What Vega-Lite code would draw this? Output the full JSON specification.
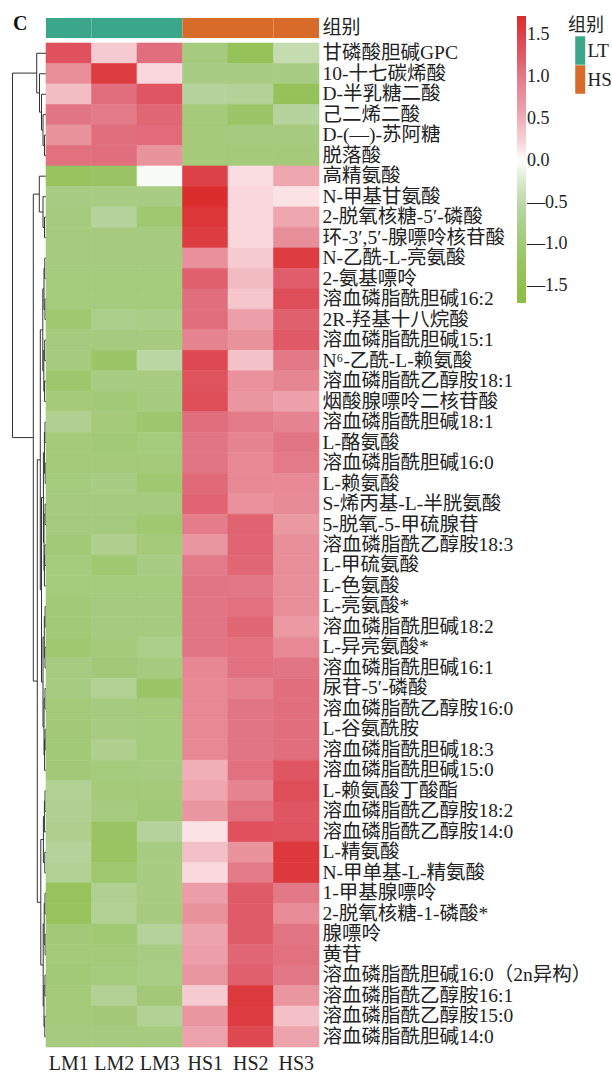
{
  "$schema": "https://vega.github.io/schema/vega-lite/v6.json",
  "width": 307,
  "height": 1031,
  "autosize": {"type": "none"},
  "padding": {"left": 12, "top": 16, "right": 293, "bottom": 27},
  "background": "white",
  "title": {"text": "C", "anchor": "start", "frame": "group", "font": "Liberation Serif", "fontSize": 20, "fontWeight": "bold", "color": "#111", "baseline": "top", "offset": 5, "dx": 1, "dy": 23},
  "config": {"view": {"stroke": null}, "font": "Liberation Serif"},
  "datasets": {
    "tree": [
      {"y": 0.5, "h": 0, "ph": 9.3}, {"y": 1.5, "h": 0, "ph": 6.5}, {"y": 2.5, "h": 0, "ph": 4.5}, {"y": 3.5, "h": 0, "ph": 3},
      {"y": 4.5, "h": 0, "ph": 1.5}, {"y": 5.5, "h": 0, "ph": 1.5}, {"y": 6.5, "h": 0, "ph": 6.7}, {"y": 7.5, "h": 0, "ph": 3},
      {"y": 8.5, "h": 0, "ph": 1.5}, {"y": 9.5, "h": 0, "ph": 1.5}, {"y": 10.5, "h": 0, "ph": 1.2}, {"y": 11.5, "h": 0, "ph": 1.2},
      {"y": 12.5, "h": 0, "ph": 1}, {"y": 13.5, "h": 0, "ph": 1}, {"y": 14.5, "h": 0, "ph": 1.3}, {"y": 15.5, "h": 0, "ph": 1.3},
      {"y": 16.5, "h": 0, "ph": 1.4}, {"y": 17.5, "h": 0, "ph": 1.4}, {"y": 18.5, "h": 0, "ph": 1}, {"y": 19.5, "h": 0, "ph": 1},
      {"y": 20.5, "h": 0, "ph": 0.8}, {"y": 21.5, "h": 0, "ph": 0.8}, {"y": 22.5, "h": 0, "ph": 0.9}, {"y": 23.5, "h": 0, "ph": 0.9},
      {"y": 24.5, "h": 0, "ph": 1.1}, {"y": 25.5, "h": 0, "ph": 1.1}, {"y": 26.5, "h": 0, "ph": 1.6}, {"y": 27.5, "h": 0, "ph": 0.9},
      {"y": 28.5, "h": 0, "ph": 0.9}, {"y": 29.5, "h": 0, "ph": 1}, {"y": 30.5, "h": 0, "ph": 1}, {"y": 31.5, "h": 0, "ph": 1},
      {"y": 32.5, "h": 0, "ph": 1}, {"y": 33.5, "h": 0, "ph": 0.8}, {"y": 34.5, "h": 0, "ph": 0.8}, {"y": 35.5, "h": 0, "ph": 1.4},
      {"y": 36.5, "h": 0, "ph": 1}, {"y": 37.5, "h": 0, "ph": 1}, {"y": 38.5, "h": 0, "ph": 1.6}, {"y": 39.5, "h": 0, "ph": 1.2},
      {"y": 40.5, "h": 0, "ph": 1.2}, {"y": 41.5, "h": 0, "ph": 1}, {"y": 42.5, "h": 0, "ph": 1}, {"y": 43.5, "h": 0, "ph": 0.9},
      {"y": 44.5, "h": 0, "ph": 0.9}, {"y": 45.5, "h": 0, "ph": 1}, {"y": 46.5, "h": 0, "ph": 1}, {"y": 47.5, "h": 0, "ph": 1.2},
      {"y": 48.5, "h": 0, "ph": 1.2},
      {"h": 1.5, "y": 5, "ph": 3, "ya": 4.5, "yb": 5.5},
      {"h": 3, "y": 4.25, "ph": 4.5, "ya": 3.5, "yb": 5},
      {"h": 4.5, "y": 3.375, "ph": 6.5, "ya": 2.5, "yb": 4.25},
      {"h": 6.5, "y": 2.4375, "ph": 9.3, "ya": 1.5, "yb": 3.375},
      {"h": 9.3, "y": 1.46875, "ph": 33.5, "ya": 0.5, "yb": 2.4375},
      {"h": 1.5, "y": 9, "ph": 3, "ya": 8.5, "yb": 9.5},
      {"h": 3, "y": 8.25, "ph": 6.7, "ya": 7.5, "yb": 9},
      {"h": 6.7, "y": 7.375, "ph": 12.7, "ya": 6.5, "yb": 8.25},
      {"h": 1.2, "y": 11, "ph": 2, "ya": 10.5, "yb": 11.5},
      {"h": 1, "y": 13, "ph": 2, "ya": 12.5, "yb": 13.5},
      {"h": 2, "y": 12, "ph": 3.2, "ya": 11, "yb": 13},
      {"h": 1.3, "y": 15, "ph": 2.2, "ya": 14.5, "yb": 15.5},
      {"h": 1.4, "y": 17, "ph": 2.2, "ya": 16.5, "yb": 17.5},
      {"h": 2.2, "y": 16, "ph": 3.2, "ya": 15, "yb": 17},
      {"h": 3.2, "y": 14, "ph": 5.7, "ya": 12, "yb": 16},
      {"h": 1, "y": 19, "ph": 1.6, "ya": 18.5, "yb": 19.5},
      {"h": 0.8, "y": 21, "ph": 1.6, "ya": 20.5, "yb": 21.5},
      {"h": 1.6, "y": 20, "ph": 2.6, "ya": 19, "yb": 21},
      {"h": 0.9, "y": 23, "ph": 2, "ya": 22.5, "yb": 23.5},
      {"h": 1.1, "y": 25, "ph": 1.6, "ya": 24.5, "yb": 25.5},
      {"h": 1.6, "y": 25.75, "ph": 2, "ya": 25, "yb": 26.5},
      {"h": 2, "y": 24.375, "ph": 2.6, "ya": 23, "yb": 25.75},
      {"h": 2.6, "y": 22.1875, "ph": 4.5, "ya": 20, "yb": 24.375},
      {"h": 0.9, "y": 28, "ph": 1.7, "ya": 27.5, "yb": 28.5},
      {"h": 1, "y": 30, "ph": 1.7, "ya": 29.5, "yb": 30.5},
      {"h": 1.7, "y": 29, "ph": 3, "ya": 28, "yb": 30},
      {"h": 1, "y": 32, "ph": 2, "ya": 31.5, "yb": 32.5},
      {"h": 0.8, "y": 34, "ph": 1.4, "ya": 33.5, "yb": 34.5},
      {"h": 1.4, "y": 34.75, "ph": 2, "ya": 34, "yb": 35.5},
      {"h": 2, "y": 33.375, "ph": 3, "ya": 32, "yb": 34.75},
      {"h": 3, "y": 31.1875, "ph": 4.5, "ya": 29, "yb": 33.375},
      {"h": 4.5, "y": 26.6875, "ph": 5.7, "ya": 22.1875, "yb": 31.1875},
      {"h": 5.7, "y": 20.34375, "ph": 8.7, "ya": 14, "yb": 26.6875},
      {"h": 1, "y": 37, "ph": 1.6, "ya": 36.5, "yb": 37.5},
      {"h": 1.6, "y": 37.75, "ph": 2.6, "ya": 37, "yb": 38.5},
      {"h": 1.2, "y": 40, "ph": 2.6, "ya": 39.5, "yb": 40.5},
      {"h": 2.6, "y": 38.875, "ph": 5.2, "ya": 37.75, "yb": 40},
      {"h": 1, "y": 42, "ph": 1.8, "ya": 41.5, "yb": 42.5},
      {"h": 0.9, "y": 44, "ph": 1.8, "ya": 43.5, "yb": 44.5},
      {"h": 1.8, "y": 43, "ph": 2.8, "ya": 42, "yb": 44},
      {"h": 1, "y": 46, "ph": 2, "ya": 45.5, "yb": 46.5},
      {"h": 1.2, "y": 48, "ph": 2, "ya": 47.5, "yb": 48.5},
      {"h": 2, "y": 47, "ph": 2.8, "ya": 46, "yb": 48},
      {"h": 2.8, "y": 45, "ph": 5.2, "ya": 43, "yb": 47},
      {"h": 5.2, "y": 41.9375, "ph": 8.7, "ya": 38.875, "yb": 45},
      {"h": 8.7, "y": 31.140625, "ph": 12.7, "ya": 20.34375, "yb": 41.9375},
      {"h": 12.7, "y": 19.2578, "ph": 33.5, "ya": 7.375, "yb": 31.140625},
      {"h": 33.5, "y": 10.3633, "ph": 33.5, "ya": 1.46875, "yb": 19.2578}
    ],
    "groups": [
      {"s": "LM1", "g": "LT", "bar": "组别"}, {"s": "LM2", "g": "LT", "bar": "组别"}, {"s": "LM3", "g": "LT", "bar": "组别"},
      {"s": "HS1", "g": "HS", "bar": "组别"}, {"s": "HS2", "g": "HS", "bar": "组别"}, {"s": "HS3", "g": "HS", "bar": "组别"}
    ],
    "metab": [
      {"m": "甘磷酸胆碱GPC", "LM1": 1.35, "LM2": 0.3, "LM3": 1.1, "HS1": -0.9, "HS2": -1.3, "HS3": -0.45},
      {"m": "10-十七碳烯酸", "LM1": 0.8, "LM2": 1.55, "LM3": 0.2, "HS1": -0.85, "HS2": -0.85, "HS3": -0.85},
      {"m": "D-半乳糖二酸", "LM1": 0.4, "LM2": 1.1, "LM3": 1.3, "HS1": -0.6, "HS2": -0.65, "HS3": -1.3},
      {"m": "己二烯二酸", "LM1": 1.05, "LM2": 1.0, "LM3": 1.15, "HS1": -0.95, "HS2": -1.15, "HS3": -0.6},
      {"m": "D-(—)-苏阿糖", "LM1": 0.75, "LM2": 1.1, "LM3": 1.12, "HS1": -0.95, "HS2": -0.9, "HS3": -0.9},
      {"m": "脱落酸", "LM1": 1.08, "LM2": 1.1, "LM3": 0.75, "HS1": -0.95, "HS2": -0.95, "HS3": -0.95},
      {"m": "高精氨酸", "LM1": -1.25, "LM2": -1.2, "LM3": -0.05, "HS1": 1.5, "HS2": 0.15, "HS3": 0.55},
      {"m": "N-甲基甘氨酸", "LM1": -0.85, "LM2": -0.85, "LM3": -0.85, "HS1": 1.72, "HS2": 0.2, "HS3": 0.13},
      {"m": "2-脱氧核糖-5′-磷酸", "LM1": -0.9, "LM2": -0.6, "LM3": -1.05, "HS1": 1.62, "HS2": 0.2, "HS3": 0.55},
      {"m": "环-3′,5′-腺嘌呤核苷酸", "LM1": -0.9, "LM2": -0.9, "LM3": -0.9, "HS1": 1.55, "HS2": 0.2, "HS3": 0.8},
      {"m": "N-乙酰-L-亮氨酸", "LM1": -0.9, "LM2": -0.9, "LM3": -0.9, "HS1": 0.78, "HS2": 0.3, "HS3": 1.55},
      {"m": "2-氨基嘌呤", "LM1": -0.92, "LM2": -0.92, "LM3": -0.92, "HS1": 1.2, "HS2": 0.42, "HS3": 1.22},
      {"m": "溶血磷脂酰胆碱16:2", "LM1": -0.92, "LM2": -0.92, "LM3": -0.92, "HS1": 1.1, "HS2": 0.33, "HS3": 1.38},
      {"m": "2R-羟基十八烷酸", "LM1": -1.05, "LM2": -0.78, "LM3": -0.82, "HS1": 1.1, "HS2": 0.62, "HS3": 1.2},
      {"m": "溶血磷脂酰胆碱15:1", "LM1": -0.9, "LM2": -0.9, "LM3": -0.9, "HS1": 0.9, "HS2": 0.75, "HS3": 1.27},
      {"m": "N⁶-乙酰-L-赖氨酸", "LM1": -0.9, "LM2": -1.15, "LM3": -0.55, "HS1": 1.42, "HS2": 0.37, "HS3": 1.02},
      {"m": "溶血磷脂酰乙醇胺18:1", "LM1": -1.1, "LM2": -0.85, "LM3": -0.88, "HS1": 1.33, "HS2": 0.77, "HS3": 0.88},
      {"m": "烟酸腺嘌呤二核苷酸", "LM1": -0.95, "LM2": -1.0, "LM3": -0.9, "HS1": 1.38, "HS2": 0.72, "HS3": 0.6},
      {"m": "溶血磷脂酰胆碱18:1", "LM1": -0.7, "LM2": -0.95, "LM3": -1.1, "HS1": 1.1, "HS2": 1.0, "HS3": 0.9},
      {"m": "L-酪氨酸", "LM1": -0.95, "LM2": -1.0, "LM3": -0.92, "HS1": 1.05, "HS2": 0.9, "HS3": 1.05},
      {"m": "溶血磷脂酰胆碱16:0", "LM1": -0.95, "LM2": -0.95, "LM3": -0.95, "HS1": 1.05, "HS2": 0.85, "HS3": 1.0},
      {"m": "L-赖氨酸", "LM1": -0.92, "LM2": -0.85, "LM3": -1.05, "HS1": 1.13, "HS2": 0.85, "HS3": 0.84},
      {"m": "S-烯丙基-L-半胱氨酸", "LM1": -0.9, "LM2": -0.9, "LM3": -0.9, "HS1": 1.17, "HS2": 0.77, "HS3": 0.83},
      {"m": "5-脱氧-5-甲硫腺苷", "LM1": -0.9, "LM2": -0.9, "LM3": -1.05, "HS1": 0.98, "HS2": 1.18, "HS3": 0.7},
      {"m": "溶血磷脂酰乙醇胺18:3", "LM1": -1.0, "LM2": -0.75, "LM3": -0.95, "HS1": 0.72, "HS2": 1.17, "HS3": 0.8},
      {"m": "L-甲硫氨酸", "LM1": -0.92, "LM2": -1.05, "LM3": -0.85, "HS1": 1.0, "HS2": 1.15, "HS3": 0.8},
      {"m": "L-色氨酸", "LM1": -0.92, "LM2": -0.92, "LM3": -0.92, "HS1": 1.05, "HS2": 1.03, "HS3": 0.8},
      {"m": "L-亮氨酸*", "LM1": -1.0, "LM2": -0.9, "LM3": -0.9, "HS1": 1.05, "HS2": 1.08, "HS3": 0.8},
      {"m": "溶血磷脂酰胆碱18:2", "LM1": -1.0, "LM2": -0.9, "LM3": -0.9, "HS1": 1.05, "HS2": 1.15, "HS3": 0.68},
      {"m": "L-异亮氨酸*", "LM1": -1.05, "LM2": -0.95, "LM3": -0.8, "HS1": 1.05, "HS2": 1.08, "HS3": 0.85},
      {"m": "溶血磷脂酰胆碱16:1", "LM1": -0.88, "LM2": -0.98, "LM3": -0.9, "HS1": 0.87, "HS2": 1.08, "HS3": 1.05},
      {"m": "尿苷-5′-磷酸", "LM1": -0.88, "LM2": -0.68, "LM3": -1.15, "HS1": 0.85, "HS2": 0.95, "HS3": 1.1},
      {"m": "溶血磷脂酰乙醇胺16:0", "LM1": -0.95, "LM2": -0.9, "LM3": -0.95, "HS1": 0.85, "HS2": 1.05, "HS3": 1.1},
      {"m": "L-谷氨酰胺", "LM1": -0.98, "LM2": -0.88, "LM3": -0.92, "HS1": 0.85, "HS2": 1.05, "HS3": 1.1},
      {"m": "溶血磷脂酰胆碱18:3", "LM1": -1.0, "LM2": -0.75, "LM3": -0.92, "HS1": 0.85, "HS2": 1.05, "HS3": 1.1},
      {"m": "溶血磷脂酰胆碱15:0", "LM1": -0.98, "LM2": -0.92, "LM3": -0.88, "HS1": 0.5, "HS2": 1.08, "HS3": 1.3},
      {"m": "L-赖氨酸丁酸酯", "LM1": -0.68, "LM2": -0.95, "LM3": -0.95, "HS1": 0.55, "HS2": 0.9, "HS3": 1.38},
      {"m": "溶血磷脂酰乙醇胺18:2", "LM1": -0.72, "LM2": -0.88, "LM3": -1.0, "HS1": 0.72, "HS2": 1.08, "HS3": 1.3},
      {"m": "溶血磷脂酰乙醇胺14:0", "LM1": -0.75, "LM2": -1.2, "LM3": -0.62, "HS1": 0.13, "HS2": 1.35, "HS3": 1.33},
      {"m": "L-精氨酸", "LM1": -0.62, "LM2": -1.22, "LM3": -0.87, "HS1": 0.38, "HS2": 0.75, "HS3": 1.58},
      {"m": "N-甲单基-L-精氨酸", "LM1": -0.68, "LM2": -1.07, "LM3": -0.87, "HS1": 0.18, "HS2": 1.0, "HS3": 1.58},
      {"m": "1-甲基腺嘌呤", "LM1": -1.28, "LM2": -0.7, "LM3": -0.87, "HS1": 0.63, "HS2": 1.25, "HS3": 1.02},
      {"m": "2-脱氧核糖-1-磷酸*", "LM1": -1.28, "LM2": -0.67, "LM3": -0.9, "HS1": 0.75, "HS2": 1.25, "HS3": 0.82},
      {"m": "腺嘌呤", "LM1": -0.98, "LM2": -1.03, "LM3": -0.62, "HS1": 0.58, "HS2": 1.25, "HS3": 1.05},
      {"m": "黄苷", "LM1": -0.95, "LM2": -0.95, "LM3": -0.85, "HS1": 0.62, "HS2": 1.15, "HS3": 1.08},
      {"m": "溶血磷脂酰胆碱16:0（2n异构）", "LM1": -1.0, "LM2": -0.92, "LM3": -0.83, "HS1": 0.72, "HS2": 1.2, "HS3": 1.03},
      {"m": "溶血磷脂酰乙醇胺16:1", "LM1": -0.95, "LM2": -0.67, "LM3": -0.98, "HS1": 0.3, "HS2": 1.57, "HS3": 0.72},
      {"m": "溶血磷脂酰乙醇胺15:0", "LM1": -0.95, "LM2": -0.98, "LM3": -0.67, "HS1": 0.72, "HS2": 1.55, "HS3": 0.38},
      {"m": "溶血磷脂酰胆碱14:0", "LM1": -0.9, "LM2": -0.9, "LM3": -0.9, "HS1": 0.58, "HS2": 1.43, "HS3": 0.58}
    ]
  },
  "layer": [
    {
      "data": {"name": "tree"},
      "mark": {"type": "rule", "stroke": "#333333", "strokeWidth": 1},
      "encoding": {
        "x": {"field": "h", "type": "quantitative", "scale": {"domain": [0, 34], "range": [34, 0], "zero": false, "nice": false}, "axis": null},
        "x2": {"field": "ph"},
        "y": {"field": "y", "type": "quantitative", "scale": {"domain": [0, 49], "range": [27, 1031], "zero": false, "nice": false}, "axis": null}
      }
    },
    {
      "data": {"name": "tree"},
      "transform": [{"filter": "isValid(datum.ya)"}],
      "mark": {"type": "rule", "stroke": "#333333", "strokeWidth": 1},
      "encoding": {
        "x": {"field": "h", "type": "quantitative", "scale": {"domain": [0, 34], "range": [34, 0], "zero": false, "nice": false}, "axis": null},
        "y": {"field": "ya", "type": "quantitative", "scale": {"domain": [0, 49], "range": [27, 1031], "zero": false, "nice": false}, "axis": null},
        "y2": {"field": "yb"}
      }
    },
    {
      "data": {"name": "groups"},
      "mark": {"type": "rect"},
      "encoding": {
        "x": {"field": "s", "type": "nominal", "sort": null, "scale": {"range": [34, 307], "paddingInner": 0, "paddingOuter": 0}, "axis": null},
        "y": {"field": "bar", "type": "nominal", "scale": {"range": [2, 22], "paddingInner": 0, "paddingOuter": 0},
          "axis": {"orient": "right", "title": null, "domain": false, "ticks": false, "tickSize": 0, "labelPadding": 3, "labelFont": "Liberation Serif, Noto Sans CJK SC", "labelFontSize": 19, "labelColor": "#222222"}},
        "color": {"field": "g", "type": "nominal", "scale": {"domain": ["LT", "HS"], "range": ["#3CA68A", "#D96B2A"]},
          "legend": {"orient": "none", "legendX": 556, "legendY": 1, "title": "组别", "titleFont": "Liberation Serif, Noto Sans CJK SC", "titleFontSize": 18, "titleFontWeight": "normal", "titleColor": "#222222", "titlePadding": 1, "padding": 0, "direction": "vertical", "symbolType": "M-0.51,-1H0.19V1H-0.51Z", "symbolSize": 812, "symbolStrokeWidth": 0, "symbolOpacity": 1, "rowPadding": 0, "labelFont": "Liberation Serif", "labelFontSize": 19, "labelColor": "#222222", "labelOffset": -9.5}}
      }
    },
    {
      "data": {"name": "metab"},
      "transform": [{"fold": ["LM1", "LM2", "LM3", "HS1", "HS2", "HS3"], "as": ["s", "v"]}],
      "mark": {"type": "rect", "strokeWidth": 0.6},
      "encoding": {
        "x": {"field": "s", "type": "nominal", "sort": null, "scale": {"range": [34, 307], "paddingInner": 0, "paddingOuter": 0},
          "axis": {"orient": "bottom", "title": null, "domain": false, "ticks": false, "tickSize": 0, "labelAngle": 0, "labelPadding": 6, "labelFont": "Liberation Serif", "labelFontSize": 20, "labelColor": "#222222"}},
        "y": {"field": "m", "type": "nominal", "sort": null, "scale": {"range": [27, 1031], "paddingInner": 0, "paddingOuter": 0},
          "axis": {"orient": "right", "title": null, "domain": false, "ticks": false, "tickSize": 0, "labelPadding": 3, "labelLimit": 0, "labelOverlap": false, "labelFont": "Liberation Serif, Noto Sans CJK SC", "labelFontSize": 19.5, "labelColor": "#222222"}},
        "color": {"field": "v", "type": "quantitative",
          "scale": {"domain": [-1.7, -1.3, -0.9, -0.6, -0.3, 0, 0.15, 0.35, 0.55, 0.8, 1.05, 1.2, 1.4, 1.55, 1.73],
            "range": ["#8CBD45", "#96C25A", "#A6CB7F", "#B5D39C", "#D2E4C3", "#FFFFFF", "#FADDE1", "#F4C4CB", "#EEA6AF", "#E88E99", "#E27584", "#E0606E", "#DE4C57", "#DD3C40", "#DC2C2C"], "interpolate": "rgb"},
          "legend": {"orient": "none", "legendX": 505, "legendY": 0, "direction": "vertical", "title": null, "padding": 0, "gradientLength": 287, "gradientThickness": 9, "gradientStrokeWidth": 0, "values": [-1.5, -1, -0.5, 0, 0.5, 1, 1.5], "format": ".1f", "labelExpr": "replace(replace(datum.label, '−', '—'), '-', '—')", "labelFont": "Liberation Serif", "labelFontSize": 18, "labelColor": "#222222", "labelOffset": 1, "labelOverlap": false}},
        "stroke": {"field": "v", "type": "quantitative",
          "scale": {"domain": [-1.7, -1.3, -0.9, -0.6, -0.3, 0, 0.15, 0.35, 0.55, 0.8, 1.05, 1.2, 1.4, 1.55, 1.73],
            "range": ["#8CBD45", "#96C25A", "#A6CB7F", "#B5D39C", "#D2E4C3", "#FFFFFF", "#FADDE1", "#F4C4CB", "#EEA6AF", "#E88E99", "#E27584", "#E0606E", "#DE4C57", "#DD3C40", "#DC2C2C"], "interpolate": "rgb"},
          "legend": null}
      }
    }
  ],
  "resolve": {
    "scale": {"x": "independent", "y": "independent", "color": "independent"},
    "axis": {"x": "independent", "y": "independent"},
    "legend": {"color": "independent"}
  }
}
